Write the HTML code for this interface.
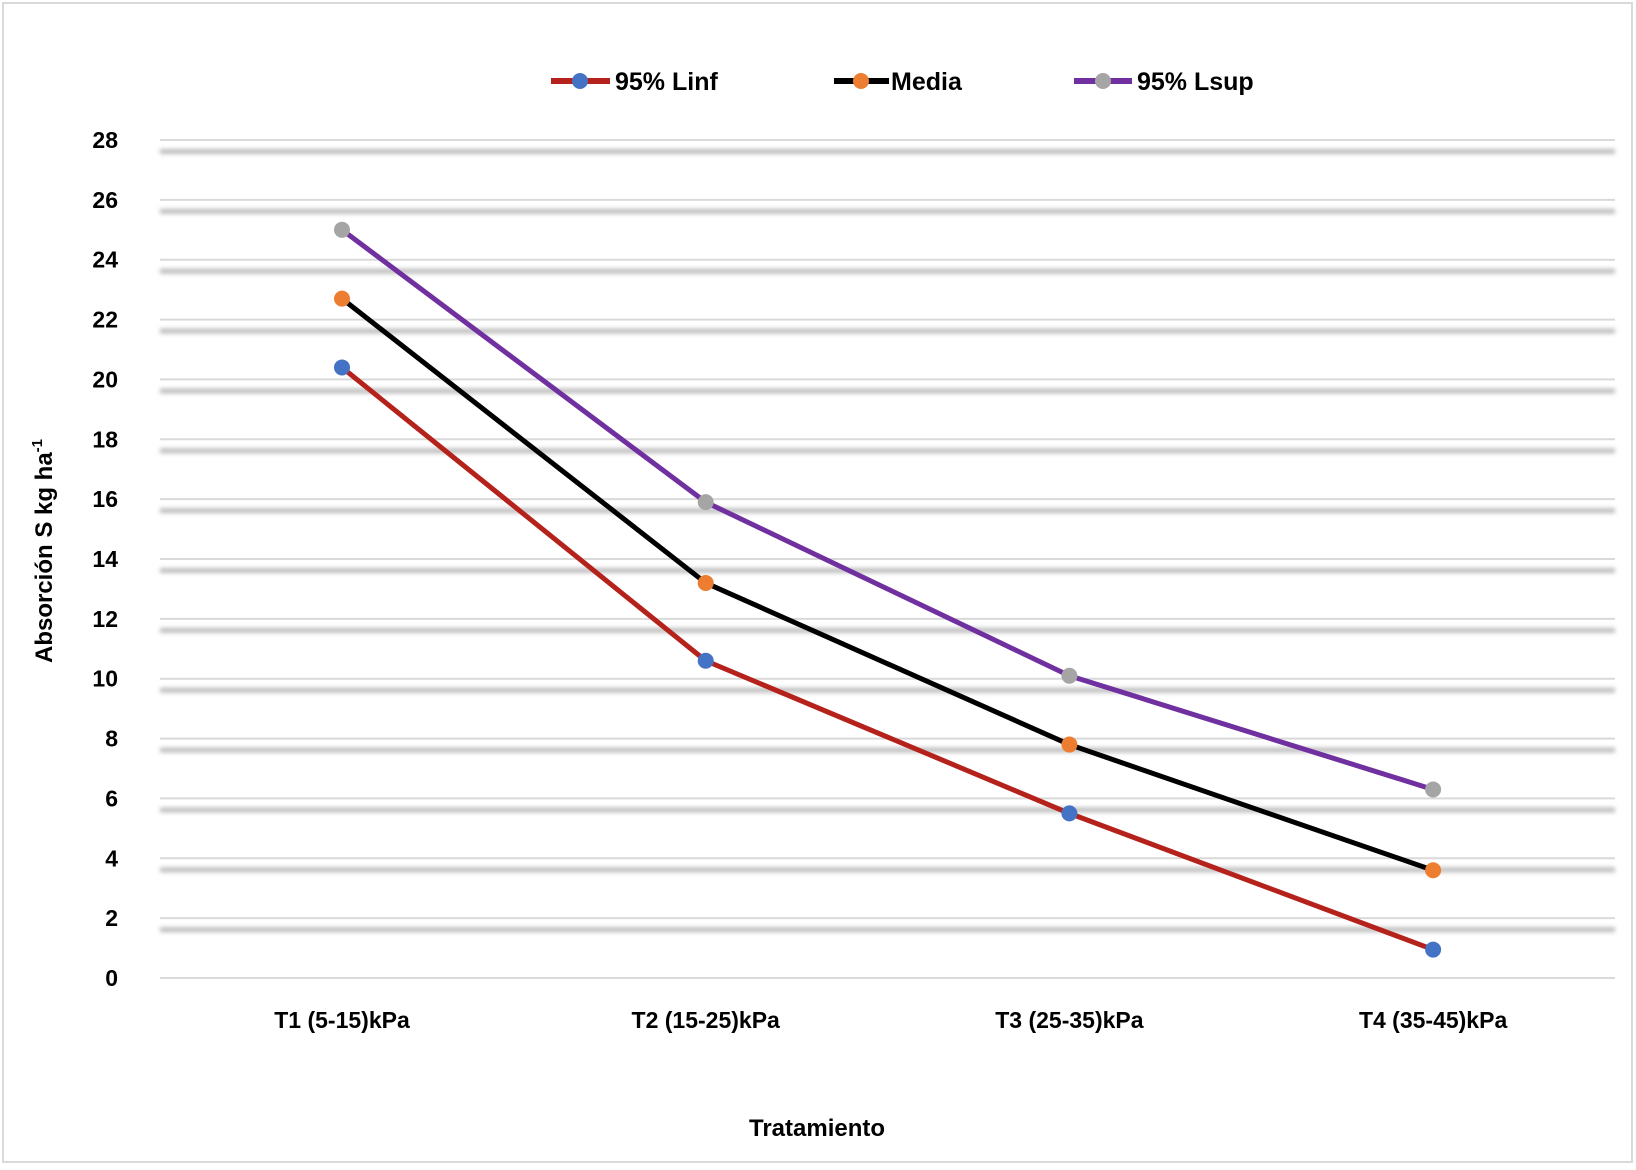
<!DOCTYPE html>
<html><head><meta charset="utf-8"><style>
body{margin:0;background:#fff}
svg text{font-family:"Liberation Sans",sans-serif;font-weight:bold;fill:#000}
</style></head><body>
<svg width="1636" height="1165" viewBox="0 0 1636 1165" xmlns="http://www.w3.org/2000/svg">
<defs><filter id="bl" x="-5%" y="-200%" width="110%" height="500%"><feGaussianBlur stdDeviation="2"/></filter></defs>
<rect x="3" y="3" width="1629" height="1159" fill="#fff" stroke="#d9d9d9" stroke-width="2"/>
<g id="grid"></g>
<g id="ticks"></g>
<g id="cats"></g>
<g id="series"></g>
<g>
 <g><line x1="551" y1="81" x2="610" y2="81" stroke="#b5221c" stroke-width="6"/><circle cx="580" cy="81" r="8" fill="#4472c4"/><text x="615" y="90" font-size="25">95% Linf</text></g>
 <g><line x1="834" y1="81" x2="889" y2="81" stroke="#000" stroke-width="6"/><circle cx="861" cy="81" r="8" fill="#ed7d31"/><text x="891" y="90" font-size="25">Media</text></g>
 <g><line x1="1074" y1="81" x2="1132" y2="81" stroke="#7030a0" stroke-width="6"/><circle cx="1103" cy="81" r="8" fill="#a5a5a5"/><text x="1137" y="90" font-size="25">95% Lsup</text></g>
</g>
<text x="817" y="1136" font-size="24" text-anchor="middle">Tratamiento</text>
<text transform="translate(52,551) rotate(-90)" font-size="24" text-anchor="middle">Absorción S kg ha<tspan dy="-10" font-size="15">-1</tspan></text>
<script>
const categories=["T1 (5-15)kPa","T2 (15-25)kPa","T3 (25-35)kPa","T4 (35-45)kPa"];
const linf=[20.4,10.6,5.5,0.95];
const media=[22.7,13.2,7.8,3.6];
const lsup=[25.0,15.9,10.1,6.3];
const yTicks=[0,2,4,6,8,10,12,14,16,18,20,22,24,26,28];
const NS="http://www.w3.org/2000/svg";
const y=v=>978-(v/28)*(978-140);
const x=i=>342+i*363.7;
function mk(t,a,p){const e=document.createElementNS(NS,t);for(const k in a)e.setAttribute(k,a[k]);p.appendChild(e);return e;}
const g=document.getElementById('grid'),tk=document.getElementById('ticks'),cg=document.getElementById('cats'),sg=document.getElementById('series');
yTicks.forEach(v=>{
 const l=mk('line',{x1:160,x2:1615,y1:y(v),y2:y(v),stroke:'#d9d9d9','stroke-width':2},g);
 
 
 if(v>0){const b=mk('rect',{x:160,y:y(v)+9,width:1455,height:5,fill:'#bdbdbd',filter:'url(#bl)'},g);
 
 }
 const t=mk('text',{x:118,y:y(v)+8,'font-size':23,'text-anchor':'end'},tk);t.textContent=v;
 
 
});
categories.forEach((c,i)=>{const t=mk('text',{x:x(i),y:1028,'font-size':23,'text-anchor':'middle'},cg);t.textContent=c;
 
 });
[[linf,'#b5221c','#4472c4','linf'],[media,'#000','#ed7d31','media'],[lsup,'#7030a0','#a5a5a5','lsup']].forEach(([d,lc,mc,n])=>{
 const p=mk('polyline',{points:d.map((v,i)=>x(i)+','+y(v)).join(' '),fill:'none',stroke:lc,'stroke-width':5,'stroke-linejoin':'round'},sg);
 
 
 d.forEach((v,i)=>{const c=mk('circle',{cx:x(i),cy:y(v),r:8,fill:mc},sg);
 
 });
});
</script>
</svg>
</body></html>
